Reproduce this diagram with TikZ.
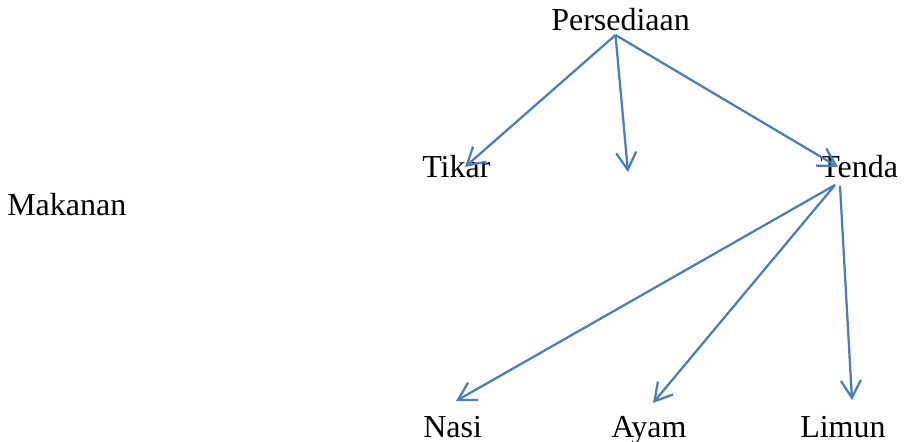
\documentclass[tikz,border=0pt]{standalone}
\usepackage{fontspec}
\setmainfont{Liberation Serif}
\usetikzlibrary{arrows.meta}
\definecolor{linkblue}{HTML}{4A7EBB}
\begin{document}
\begin{tikzpicture}[x=0.75pt,y=-0.75pt,
  lbl/.style={anchor=base west,inner sep=0pt,font=\fontsize{24}{28}\selectfont},
  link/.style={draw=linkblue,line width=1.7pt,-{Straight Barb[length=13pt,width=15pt,line width=1.7pt]}}]
\useasboundingbox (0,0) rectangle (907,442);
% labels
\node[lbl] (pers) at (551,30.5) {Persediaan};
\node[lbl] (tikar) at (422,178) {Tikar};
\node[lbl] (tenda) at (820,178) {Tenda};
\node[lbl] (mak) at (7,215) {Makanan};
\node[lbl] (nasi) at (423,437) {Nasi};
\node[lbl] (ayam) at (611,437) {Ayam};
\node[lbl] (limun) at (800,437) {Limun};
% arrow endpoints
\coordinate (ptop) at (615.5,35);
\coordinate (tikarin) at (465,167);
\coordinate (mid) at (628,172);
\coordinate (tendain) at (838,167);
\coordinate (tendaout) at (835,185);
\coordinate (tendaout2) at (840,186);
\coordinate (nasiin) at (456,401);
\coordinate (ayamin) at (653,403);
\coordinate (limunin) at (852,400);
% arrows
\draw[link] (ptop) -- (tikarin);
\draw[link] (ptop) -- (mid);
\draw[link] (ptop) -- (tendain);
\draw[link] (tendaout) -- (nasiin);
\draw[link] (tendaout) -- (ayamin);
\draw[link] (tendaout2) -- (limunin);
\end{tikzpicture}
\end{document}
